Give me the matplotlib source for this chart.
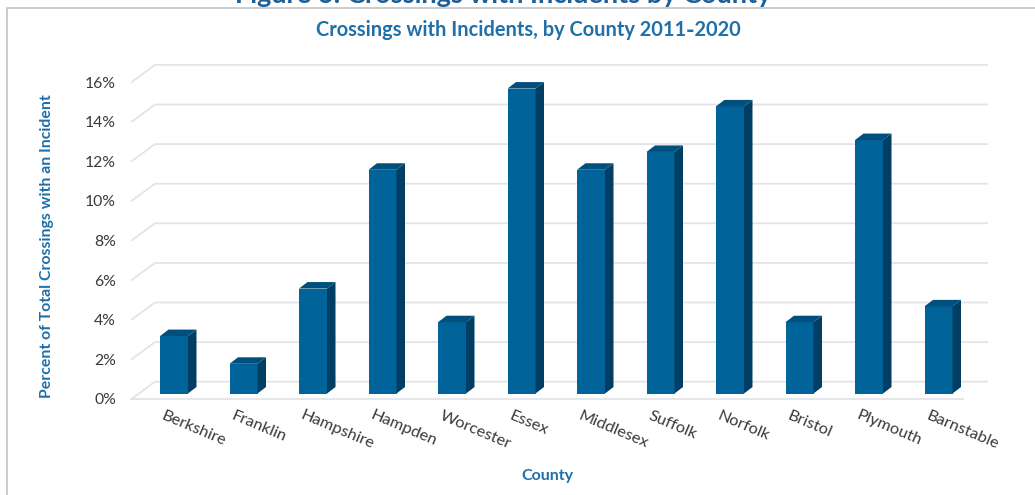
import matplotlib
matplotlib.use("Agg")
import matplotlib.pyplot as plt
from matplotlib.patches import Polygon, Rectangle

# ---- data -------------------------------------------------------------
counties = ["Berkshire", "Franklin", "Hampshire", "Hampden", "Worcester", "Essex",
            "Middlesex", "Suffolk", "Norfolk", "Bristol", "Plymouth", "Barnstable"]
pct_with_incident = [2.9, 1.5, 5.3, 11.3, 3.6, 15.4, 11.3, 12.2, 14.5, 3.6, 12.8, 4.4]
y_ticks = [0, 2, 4, 6, 8, 10, 12, 14, 16]
y_tick_labels = [f"{t}%" for t in y_ticks]

figure_caption = "Figure 6: Crossings with Incidents by County"
chart_title = "Crossings with Incidents, by County 2011\u20112020"
x_title = "County"
y_title = "Percent of Total Crossings with an Incident"

# ---- style ------------------------------------------------------------
FONT = ["Lato", "DejaVu Sans"]
BLUE_TEXT = "#1f6fa8"
CAPTION_BLUE = "#1d5f96"
TICK_GREY = "#3a3a3a"
GRID = "#e2e4e8"
FRONT = "#00639a"
SIDE = "#003f63"
TOP = "#004f7d"

W, H, DPI = 1035, 495, 100
X0 = 174.0      # pixel centre of the first column
PITCH = 69.5    # pixels between columns
BASE = 393.5    # pixel row of the column bases (from the top)
SCALE = 19.8    # pixels per percentage point

fig = plt.figure(figsize=(W / DPI, H / DPI), dpi=DPI)
fig.patch.set_facecolor("white")
ax = fig.add_axes([0, 0, 1, 1])
ax.set_xlim((0 - X0) / PITCH, (W - X0) / PITCH)
ax.set_ylim((BASE - H) / SCALE, BASE / SCALE)
ax.axis("off")


def dx(px):
    return px / PITCH


def dy(px):
    return px / SCALE


def xpx(px):
    return (px - X0) / PITCH


# ---- walls and gridlines ---------------------------------------------
front_x, back_x, right_x = xpx(131), xpx(155), xpx(988)
front_off, back_off = -dy(5.8), dy(11.8)
for t in y_ticks:
    ax.plot([front_x, back_x, right_x], [t + front_off, t + back_off, t + back_off],
            color=GRID, lw=1.3, zorder=1, solid_capstyle="butt")
# floor front edge
ax.plot([front_x, xpx(963)], [y_ticks[0] + front_off] * 2, color=GRID, lw=1.3, zorder=1)

# ---- 3-D style columns -----------------------------------------------
bw = dx(28)
ddx, ddy = dx(8.5), dy(6.5)
xs = list(range(len(counties)))
ax.bar(xs, pct_with_incident, width=bw, color=FRONT, zorder=3)
for x, v in zip(xs, pct_with_incident):
    l, r = x - bw / 2, x + bw / 2
    ax.add_patch(Polygon([(r, 0), (r, v), (r + ddx, v + ddy), (r + ddx, ddy)],
                         closed=True, facecolor=SIDE, edgecolor="none", zorder=3))
    ax.add_patch(Polygon([(l, v), (r, v), (r + ddx, v + ddy), (l + ddx, v + ddy)],
                         closed=True, facecolor=TOP, edgecolor="none", zorder=3))

# ---- tick labels -----------------------------------------------------
for t, lab in zip(y_ticks, y_tick_labels):
    ax.text(xpx(116), t + front_off - dy(1.2), lab, ha="right", va="center",
            fontsize=11.3, color=TICK_GREY, family=FONT)

for x, name in zip(xs, counties):
    ax.text(x - dx(9), -dy(15), name, ha="left", va="top", rotation=-23,
            rotation_mode="anchor", fontsize=11.8, color=TICK_GREY, family=FONT)

# ---- titles ----------------------------------------------------------
fig.text(528 / W, 1 - 30 / H, chart_title, ha="center", va="center",
         fontsize=14.4, fontweight="bold", color=BLUE_TEXT, family=FONT)
fig.text(503 / W, 1 - 2.7 / H, figure_caption, ha="center", va="baseline",
         fontsize=19.5, fontweight="bold", color=CAPTION_BLUE, family=FONT)
fig.text(547 / W, 1 - 476 / H, x_title, ha="center", va="center",
         fontsize=11.5, fontweight="bold", color=BLUE_TEXT, family=FONT)
fig.text(47 / W, 1 - 246 / H, y_title, ha="center", va="center", rotation=90,
         fontsize=11.4, fontweight="bold", color=BLUE_TEXT, family=FONT)

# ---- chart frame -----------------------------------------------------
fig.add_artist(Rectangle((7 / W, -0.05), 1.1, 1 - 8 / H + 0.05, transform=fig.transFigure,
                         fill=False, edgecolor="#c8c8c8", lw=1.3))

fig.savefig("out.png", dpi=DPI, facecolor="white")
